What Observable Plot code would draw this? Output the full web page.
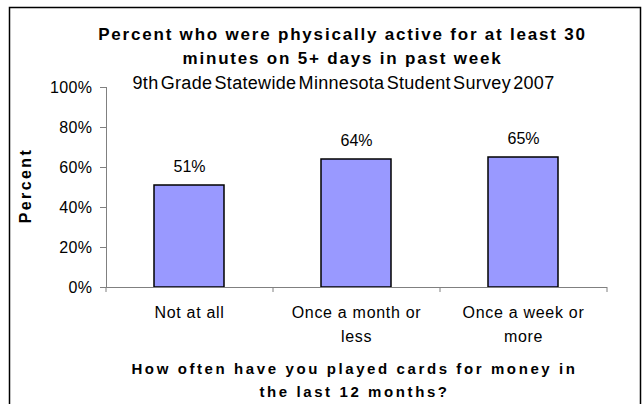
<!DOCTYPE html>
<html><head><meta charset="utf-8">
<script src="https://cdn.jsdelivr.net/npm/d3@7"></script>
<script src="https://cdn.jsdelivr.net/npm/@observablehq/plot@0.6"></script>
<style>body{margin:0;background:#fff} svg{font-family:"Liberation Sans",Arial,sans-serif}</style>
</head><body><div id="chart"></div>
<script>
const categories = ["Not at all", "Once a month or less", "Once a week or more"];
const tickLabels = ["Not at all", "Once a month or\nless", "Once a week or\nmore"];
const values = [51, 64, 65];
const yTicks = [0, 20, 40, 60, 80, 100];
const title = "Percent who were physically active for at least 30\nminutes on 5+ days in past week";
const subtitle = "9th Grade Statewide Minnesota Student Survey 2007";
const xTitle = "How often have you played cards for money in\nthe last 12 months?";
const yTitle = "Percent";

const data = categories.map((c, i) => ({category: c, value: values[i]}));
const W = 642, H = 404, ML = 106, MR = 35, MT = 87, MB = 117;
const step = (W - ML - MR) / 3;
const axisColor = "#808080";

const chart = Plot.plot({
  width: W, height: H,
  marginLeft: ML, marginRight: MR, marginTop: MT, marginBottom: MB,
  style: {fontFamily: '"Liberation Sans", Arial, sans-serif', background: "#fff", color: "#000"},
  x: {domain: categories, paddingInner: 0.58, paddingOuter: 0.29},
  y: {domain: [0, 100]},
  marks: [
    Plot.barY(data, {x: "category", y: "value", fill: "#9999FF", stroke: "#000", strokeWidth: 1.5}),
    Plot.ruleY([0], {stroke: axisColor}),
    Plot.frame({anchor: "left", stroke: axisColor}),
    Plot.axisY({ticks: yTicks, tickFormat: d => d + "%", tickSize: 6, tickPadding: 8, fontSize: 16, label: null, stroke: axisColor}),
    Plot.axisX({tickSize: 0, tickPadding: 13, fontSize: 16, lineHeight: 1.5, label: null,
      tickFormat: d => tickLabels[categories.indexOf(d)]}),
    Plot.ruleX(categories, {x: d => d, dx: -step / 2, y1: 0, y2: -2.5, stroke: axisColor}),
    Plot.ruleX([categories[categories.length - 1]], {x: d => d, dx: step / 2, y1: 0, y2: -2.5, stroke: axisColor}),
    Plot.text(data, {x: "category", y: "value", text: d => d.value + "%", dy: -14, lineAnchor: "bottom", fontSize: 16}),
    Plot.text([title], {frameAnchor: "top-left", dx: 236, dy: -43, fontSize: 17, fontWeight: "bold", lineHeight: 1.41, lineAnchor: "middle", textAnchor: "middle"}),
    Plot.text([subtitle], {frameAnchor: "top-left", dx: 237, dy: -4, fontSize: 18, lineAnchor: "middle", textAnchor: "middle"}),
    Plot.text([xTitle], {frameAnchor: "bottom-left", dx: 248, dy: 90.5, fontSize: 15, fontWeight: "bold", lineHeight: 1.53, lineAnchor: "middle", textAnchor: "middle"}),
    Plot.text([yTitle], {frameAnchor: "left", dx: -81, dy: -2, rotate: -90, fontSize: 16, fontWeight: "bold", lineAnchor: "middle", textAnchor: "middle"})
  ]
});
document.getElementById("chart").appendChild(chart);
const svg = d3.select(chart);
svg.insert("rect", ":first-child").attr("x", 9.5).attr("y", 7.5).attr("width", 631).attr("height", 400)
  .attr("fill", "none").attr("stroke", "#000").attr("stroke-width", 1.5);
const byStart = s => svg.selectAll("text").filter(function () { return this.textContent.startsWith(s); });
byStart("How often").style("letter-spacing", "2.6px");
byStart("Percent who").style("letter-spacing", "1.8px");
byStart("9th Grade").style("letter-spacing", "0.3px").style("word-spacing", "-3px");
svg.selectAll("text").filter(function () { return this.textContent === "Percent"; }).style("letter-spacing", "2.4px");
svg.selectAll('g[aria-label="x-axis tick label"] text').style("letter-spacing", "0.7px");
svg.selectAll('g[aria-label="y-axis tick label"] text').style("letter-spacing", "0.4px");
</script></body></html>
